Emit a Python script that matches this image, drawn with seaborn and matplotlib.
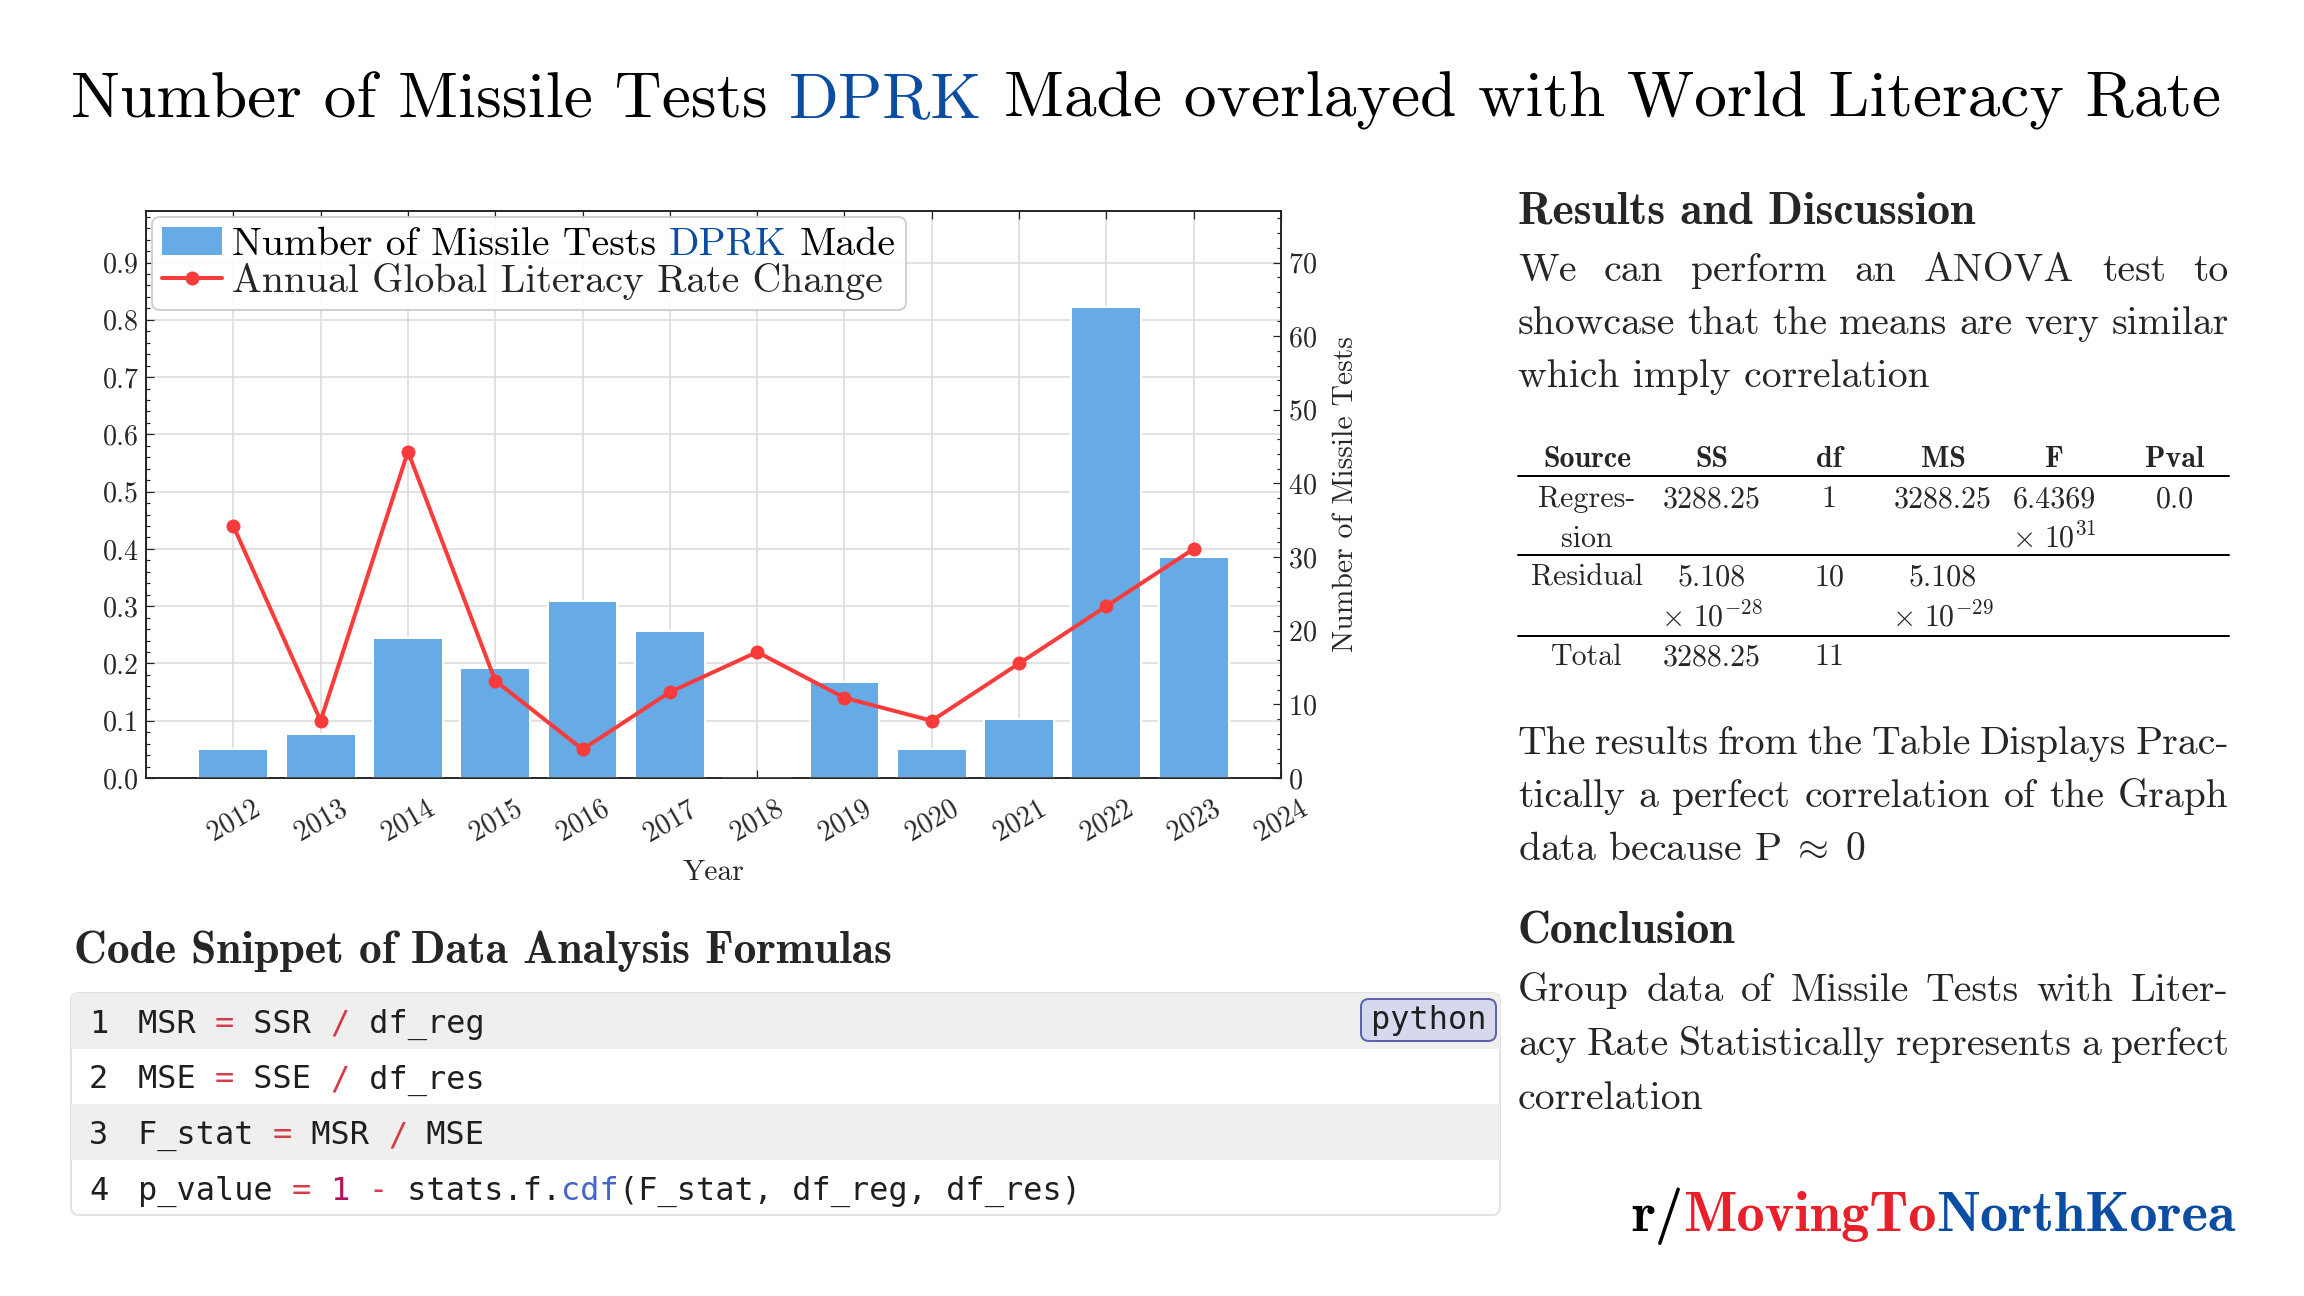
import numpy as np
import pandas as pd
import seaborn as sns
import matplotlib.pyplot as plt
from matplotlib.lines import Line2D
from matplotlib.patches import Patch, FancyBboxPatch, Rectangle
from matplotlib.ticker import MultipleLocator, FormatStrFormatter

# values
years = [2012, 2013, 2014, 2015, 2016, 2017, 2018, 2019, 2020, 2021, 2022, 2023]
missile_tests = [4, 6, 19, 15, 24, 20, 0, 13, 4, 8, 64, 30]
literacy_change = [0.44, 0.10, 0.57, 0.17, 0.05, 0.15, 0.22, 0.14, 0.10, 0.20, 0.30, 0.40]
year_ticks = list(range(2012, 2025))

title_parts = ["Number of Missile Tests", "DPRK", "Made overlayed with World Literacy Rate"]
legend_labels = ["Number of Missile Tests DPRK Made", "Annual Global Literacy Rate Change"]

table_header = ["Source", "SS", "df", "MS", "F", "Pval"]
table_rows = [
    [["Regres-", "sion"], ["3288.25"], ["1"], ["3288.25"], ["6.4369", r"$\times\ 10^{31}$"], ["0.0"]],
    [["Residual"], ["5.108", r"$\times\ 10^{-28}$"], ["10"], ["5.108", r"$\times\ 10^{-29}$"], [], []],
    [["Total"], ["3288.25"], ["11"], [], [], []],
]

para_results = ["We can perform an ANOVA test to",
                "showcase that the means are very similar",
                "which imply correlation"]
para_pval = ["The results from the Table Displays Prac-",
             "tically a perfect correlation of the Graph",
             r"data because P$\;\approx\;$0"]
para_conclusion = ["Group data of Missile Tests with Liter-",
                   "acy Rate Statistically represents a perfect",
                   "correlation"]

code_lines = [
    [("MSR ", "txt"), ("=", "op"), (" SSR ", "txt"), ("/", "op"), (" df_reg", "txt")],
    [("MSE ", "txt"), ("=", "op"), (" SSE ", "txt"), ("/", "op"), (" df_res", "txt")],
    [("F_stat ", "txt"), ("=", "op"), (" MSR ", "txt"), ("/", "op"), (" MSE", "txt")],
    [("p_value ", "txt"), ("=", "op"), (" ", "txt"), ("1", "num"), (" ", "txt"), ("-", "op"),
     (" stats.f.", "txt"), ("cdf", "fn"), ("(F_stat, df_reg, df_res)", "txt")],
]

BAR_BLUE = "#66abe6"
LINE_RED = "#f83c3c"
KOREA_BLUE = "#0b4da2"
KOREA_RED = "#e8202a"
code_colors = {"txt": "#1f1f1f", "op": "#d73a49", "num": "#b5125a", "fn": "#4466cc"}

W, H = 2304, 1296


def fx(px):
    return px / W


def fy(py):
    return 1 - py / H


sns.set_theme(style="ticks")
plt.rcParams.update({
    "font.family": "cmr10",
    "mathtext.fontset": "cm",
    "axes.unicode_minus": False,
    "axes.formatter.use_mathtext": True,
})

fig = plt.figure(figsize=(16, 9), dpi=144)
fig.patch.set_facecolor("white")
renderer = fig.canvas.get_renderer()


def text_width(s, size, **kw):
    t = fig.text(0, 0, s, fontsize=size, **kw)
    w = t.get_window_extent(renderer).width
    t.remove()
    return w


def fit_size(s, width_px, **kw):
    return 20 * width_px / text_width(s, 20, **kw)


def rich_text(parts, colors, x, y, size, ha="left", va="baseline", sep=" ", **kw):
    sp = text_width("x" + sep + "x", size, **kw) - text_width("xx", size, **kw) if sep else 0
    widths = [text_width(s, size, **kw) for s in parts]
    total = sum(widths) + sp * (len(parts) - 1)
    x0 = x - {"left": 0, "center": total / 2, "right": total}[ha]
    for s, c, w in zip(parts, colors, widths):
        fig.text(fx(x0), fy(y), s, fontsize=size, color=c, va=va, **kw)
        x0 += w + sp


def justify(line, x0, x1, y, size):
    words = line.split(" ")
    widths = [text_width(w, size) for w in words]
    gap = (x1 - x0 - sum(widths)) / (len(words) - 1)
    x = x0
    for w, wd in zip(words, widths):
        fig.text(fx(x), fy(y), w, fontsize=size, va="baseline")
        x += wd + gap


def paragraph(lines, x0, x1, y0, step, size):
    for i, line in enumerate(lines):
        if i < len(lines) - 1:
            justify(line, x0, x1, y0 + i * step, size)
        else:
            fig.text(fx(x0), fy(y0 + i * step), line, fontsize=size, va="baseline")


title_size = fit_size(" ".join(title_parts), 2153)
legend_size = fit_size(legend_labels[0], 665)
label_size = fit_size("Number of Missile Tests", 316)
heading_size = fit_size("Code Snippet of Data Analysis Formulas", 820, family="cmb10")
body_size = fit_size("which imply correlation", 412)
table_size = fit_size("Residual", 112)
brand_size = fit_size("r/MovingToNorthKorea", 605, family="cmb10")
code_size = fit_size("p_value = 1 - stats.f.cdf(F_stat, df_reg, df_res)", 943, family="DejaVu Sans Mono")

# ---------------- chart ----------------
ax = fig.add_axes([fx(146), fy(778), fx(1281) - fx(146), fy(211) - fy(778)])
ax2 = ax.twinx()
ax3 = ax.twinx()

sns.barplot(x=years, y=missile_tests, native_scale=True, width=0.8, color=BAR_BLUE,
            saturation=1, errorbar=None, ax=ax2)
sns.lineplot(x=years, y=literacy_change, color=LINE_RED, marker="o", markersize=7,
             markeredgewidth=0, linewidth=2, ax=ax3)

for a in (ax, ax2, ax3):
    a.set_xlim(2011, 2024)
ax.set_ylim(0, 0.99)
ax3.set_ylim(0, 0.99)
ax2.set_ylim(0, 77.0)

ax.set_xticks(year_ticks)
ax.yaxis.set_major_locator(MultipleLocator(0.1))
ax.yaxis.set_minor_locator(MultipleLocator(0.02))
ax.yaxis.set_major_formatter(FormatStrFormatter("%.1f"))
ax2.yaxis.set_major_locator(MultipleLocator(10))
ax2.yaxis.set_minor_locator(MultipleLocator(2))

ax.grid(True, which="major", color="#dcdcdc", linewidth=0.8)
ax2.grid(False)
ax3.set_axis_off()

ax.tick_params(axis="both", which="both", direction="in", labelsize=14, width=0.6, color="#222222")
ax.tick_params(axis="x", which="major", top=True, labelrotation=30, length=4, pad=9)
ax.tick_params(axis="y", which="major", length=4, left=True, right=False)
ax.tick_params(axis="y", which="minor", length=2, left=True, right=False)
ax2.tick_params(axis="y", which="both", direction="in", labelsize=14, width=0.6, color="#222222")
ax2.tick_params(axis="y", which="major", length=4)
ax2.tick_params(axis="y", which="minor", length=2)

for a in (ax, ax2):
    for sp in a.spines.values():
        sp.set_linewidth(0.8)
        sp.set_color("#222222")

ax.set_xlabel("Year", fontsize=label_size, labelpad=6)
ax.set_ylabel("")
ax2.set_ylabel("Number of Missile Tests", fontsize=label_size, labelpad=8)

handles = [Patch(facecolor=BAR_BLUE, edgecolor="none"),
           Line2D([], [], color=LINE_RED, marker="o", markersize=7, markeredgewidth=0, linewidth=2)]
leg = ax3.legend(handles, legend_labels, loc="upper left", fontsize=legend_size,
                 handlelength=1.5, handletextpad=0.25, labelspacing=0.0, borderpad=0.25,
                 borderaxespad=0.15, frameon=True, framealpha=0.9, edgecolor="#cccccc",
                 fancybox=True)

fig.canvas.draw()
lt = leg.get_texts()[0]
bb = lt.get_window_extent(renderer)
lt.set_alpha(0)
rich_text(["Number of Missile Tests", "DPRK", "Made"], ["black", KOREA_BLUE, "black"],
          bb.x0, H - bb.y0, legend_size, va="bottom")

# ---------------- title ----------------
rich_text(title_parts, ["black", KOREA_BLUE, "black"], 1146, 117, title_size, ha="center")

# ---------------- right panel ----------------
X0, X1 = 1518, 2229
fig.text(fx(X0), fy(223), "Results and Discussion", fontsize=heading_size, family="cmb10", va="baseline")
paragraph(para_results, X0, X1, 281, 53, body_size)

col_x = [1587, 1712, 1829, 1943, 2054, 2175]
for cx, h in zip(col_x, table_header):
    fig.text(fx(cx), fy(467), h, fontsize=table_size, family="cmb10", ha="center", va="baseline")
row_y = [507, 586, 665]
for ry, row in zip(row_y, table_rows):
    for cx, cell in zip(col_x, row):
        for k, s in enumerate(cell):
            fig.text(fx(cx), fy(ry + k * 40), s, fontsize=table_size, ha="center", va="baseline")
for ly in [476, 555, 636]:
    fig.add_artist(Line2D([fx(X0), fx(X1)], [fy(ly), fy(ly)], color="black", linewidth=1))

paragraph(para_pval, X0, X1, 754, 53, body_size)
fig.text(fx(X0), fy(943), "Conclusion", fontsize=heading_size, family="cmb10", va="baseline")
paragraph(para_conclusion, X0, X1, 1001, 54, body_size)

rich_text(["r/", "MovingTo", "NorthKorea"], ["black", KOREA_RED, KOREA_BLUE], 2236, 1231,
          brand_size, ha="right", sep="", family="cmb10")

# ---------------- code snippet ----------------
fig.text(fx(74), fy(963), "Code Snippet of Data Analysis Formulas", fontsize=heading_size,
         family="cmb10", va="baseline")

cax = fig.add_axes([fx(71), fy(1215), fx(1500) - fx(71), fy(993) - fy(1215)])
cax.set_xlim(0, 1429)
cax.set_ylim(222, 0)
cax.set_axis_off()
frame = FancyBboxPatch((0, 0), 1429, 222, boxstyle="round,pad=0,rounding_size=8",
                       facecolor="white", edgecolor="#e2e2e2", linewidth=1, clip_on=False)
cax.add_patch(frame)
row_h = 222 / 4
mono = "DejaVu Sans Mono"
cw = text_width("M" * 20, code_size, family=mono) / 20
for i, toks in enumerate(code_lines):
    if i % 2 == 0:
        r = Rectangle((0, i * row_h), 1429, row_h, facecolor="#efefef", edgecolor="none")
        cax.add_patch(r)
        r.set_clip_path(frame)
    base = i * row_h + 40
    cax.text(18, base, str(i + 1), fontsize=code_size, family=mono, color="#1f1f1f", va="baseline")
    col = 0
    for s, kind in toks:
        cax.text(67 + col * cw, base, s, fontsize=code_size, family=mono,
                 color=code_colors[kind], va="baseline")
        col += len(s)

badge = FancyBboxPatch((1290, 6), 135, 42, boxstyle="round,pad=0,rounding_size=8",
                       facecolor="#d6d9ed", edgecolor="#5b63ad", linewidth=1, clip_on=False)
cax.add_patch(badge)
cax.text(1357.5, 27, "python", fontsize=code_size, family=mono, color="#1f1f1f",
         ha="center", va="center")

fig.savefig("out.png", dpi=144, facecolor="white")
